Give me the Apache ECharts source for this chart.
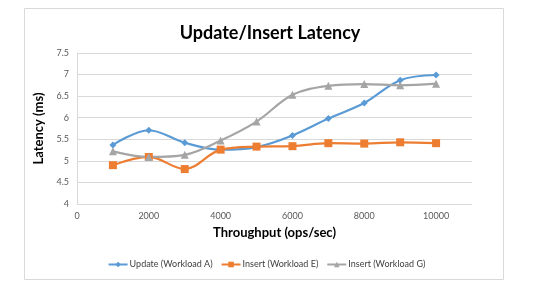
<!DOCTYPE html>
<html><head><meta charset="utf-8">
<script src="https://cdn.jsdelivr.net/npm/echarts@6/dist/echarts.min.js"></script>
<style>html,body{margin:0;padding:0;background:#fff}#c{width:533px;height:294px}</style>
</head><body><div id="c"></div>
<script>
const throughput = [1000,2000,3000,4000,5000,6000,7000,8000,9000,10000];
const updateA = [5.37,5.71,5.42,5.26,5.32,5.59,5.98,6.34,6.87,6.99];
const insertE = [4.90,5.09,4.81,5.26,5.33,5.34,5.41,5.40,5.43,5.41];
const insertG = [5.22,5.09,5.14,5.47,5.91,6.53,6.74,6.78,6.75,6.79];
const seriesNames = ['Update (Workload A)','Insert (Workload E)','Insert (Workload G)'];
const font = 'Lato, "Open Sans", sans-serif';
const pairs = a => throughput.map((x,i)=>[x,a[i]]);
const chart = echarts.init(document.getElementById('c'));
function mk(name, data, color, symbol, size){
  return {name, type:'line', smooth:0.35, data:pairs(data), symbol, symbolSize:size,
    itemStyle:{color}, lineStyle:{color, width:2.2}, emphasis:{disabled:true}};
}
chart.setOption({
  animation:false,
  title:{text:'Update/Insert Latency', left:265, top:19, textAlign:'center',
    textStyle:{fontFamily:font, fontSize:18, fontWeight:'bold', color:'#000'}},
  graphic:[{type:'rect', shape:{x:24.5,y:8.5,width:479,height:271},
    style:{fill:'none', stroke:'#D9D9D9', lineWidth:1}, z:-1}],
  grid:{left:77, right:61, top:53, bottom:90},
  xAxis:{type:'value', min:0, max:11000, interval:2000,
    name:'Throughput (ops/sec)', nameLocation:'middle', nameGap:22,
    nameTextStyle:{fontFamily:font, fontSize:13, fontWeight:'bold', color:'#000'},
    axisLine:{show:false}, axisTick:{show:false}, splitLine:{show:false},
    axisLabel:{fontFamily:font, fontSize:9, color:'#595959', margin:8,
      formatter:v=> v>10000?'':String(v)}},
  yAxis:{type:'value', min:4, max:7.5, interval:0.5,
    name:'Latency (ms)', nameLocation:'middle', nameGap:27,
    nameTextStyle:{fontFamily:font, fontSize:13, fontWeight:'bold', color:'#000'},
    axisLine:{show:true, lineStyle:{color:'#D9D9D9'}}, axisTick:{show:false},
    splitLine:{lineStyle:{color:'#D9D9D9'}},
    axisLabel:{fontFamily:font, fontSize:9, color:'#595959', margin:8}},
  legend:{bottom:20, left:'center', itemWidth:19, itemHeight:7, itemGap:8,
    textStyle:{fontFamily:font, fontSize:9, color:'#404040', padding:[0,0,0,-3]},
    data:seriesNames},
  series:[
    mk(seriesNames[0], updateA, '#5B9BD5', 'diamond', 7),
    mk(seriesNames[1], insertE, '#ED7D31', 'rect', 8),
    mk(seriesNames[2], insertG, '#A5A5A5', 'triangle', 8)
  ]
});
</script></body></html>
